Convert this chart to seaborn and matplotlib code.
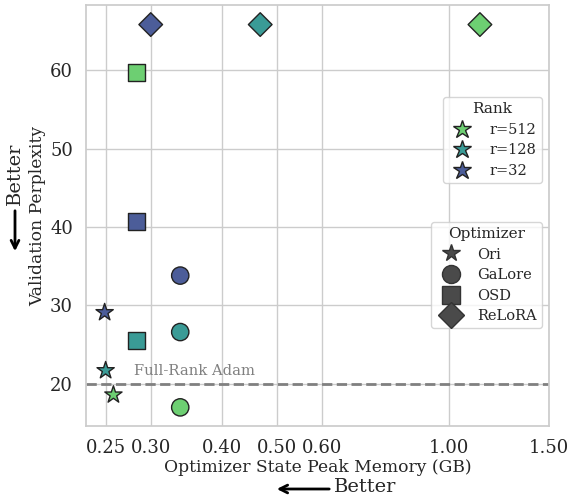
import numpy as np
import pandas as pd
import matplotlib
matplotlib.use("Agg")
import matplotlib.pyplot as plt
from matplotlib.lines import Line2D
import seaborn as sns

sns.set_theme(style="whitegrid")
plt.rcParams['font.family'] = ['DejaVu Serif']

# values
optimizers = ["Ori", "GaLore", "OSD", "ReLoRA"]
ranks = ["r=512", "r=128", "r=32"]
memory = {
    "Ori":    [0.258, 0.250, 0.249],
    "GaLore": [0.338, 0.338, 0.338],
    "OSD":    [0.283, 0.283, 0.283],
    "ReLoRA": [1.135, 0.467, 0.300],
}
perplexity = {
    "Ori":    [18.6, 21.7, 29.1],
    "GaLore": [17.0, 26.6, 33.8],
    "OSD":    [59.7, 25.5, 40.7],
    "ReLoRA": [65.8, 65.8, 65.8],
}
full_rank_adam = 20.0
xticks = [0.25, 0.30, 0.40, 0.50, 0.60, 1.00, 1.50]

rows = []
for opt in optimizers:
    for r, m, p in zip(ranks, memory[opt], perplexity[opt]):
        rows.append({"Optimizer": opt, "Rank": r, "Memory": m, "PPL": p})
df = pd.DataFrame(rows)

palette = {"r=512": "#6dcf72", "r=128": "#3a9b96", "r=32": "#4c5d99"}
markers = {"Ori": "*", "GaLore": "o", "OSD": "s", "ReLoRA": "D"}
sizes = {"Ori": 170, "GaLore": 155, "OSD": 155, "ReLoRA": 145}

fig = plt.figure(figsize=(5.7, 4.95), dpi=100)
ax = fig.add_axes([0.151, 0.139, 0.812, 0.851])

for opt in optimizers:
    sns.scatterplot(data=df[df.Optimizer == opt], x="Memory", y="PPL",
                    hue="Rank", palette=palette, marker=markers[opt],
                    s=sizes[opt], edgecolor="#222222", linewidth=1,
                    legend=False, ax=ax, zorder=3)

ax.axhline(full_rank_adam, color="gray", linestyle="--", lw=2, zorder=2)
ax.text(0.28, 21.6, "Full-Rank Adam", color="gray", fontsize=10.6, va="center")

ax.set_xscale("log")
ax.set_xlim(0.231, 1.5)
ax.set_ylim(14.6, 68.3)
ax.set_xticks(xticks)
ax.set_xticklabels(["%.2f" % t for t in xticks])
ax.xaxis.set_minor_locator(matplotlib.ticker.NullLocator())
ax.set_yticks([20, 30, 40, 50, 60])
ax.tick_params(labelsize=13)
ax.set_xlabel("Optimizer State Peak Memory (GB)", fontsize=12.3, labelpad=1)
ax.set_ylabel("Validation Perplexity", fontsize=12.3, labelpad=3)

# legends
rank_handles = [Line2D([], [], marker="*", ls="", markersize=13.5,
                       markerfacecolor=palette[r], markeredgecolor="#222222",
                       label=r) for r in ranks]
leg1 = ax.legend(handles=rank_handles, title="Rank", loc="upper right",
                 bbox_to_anchor=(0.985, 0.781), borderaxespad=0,
                 fontsize=10.5, title_fontsize=11,
                 handletextpad=0.9, borderpad=0.35, labelspacing=0.45)
ax.add_artist(leg1)
opt_handles = [Line2D([], [], marker=markers[o], ls="", markersize=13,
                      markerfacecolor="#4a4a4a", markeredgecolor="#333333",
                      label=o) for o in optimizers]
ax.legend(handles=opt_handles, title="Optimizer", loc="upper right",
          bbox_to_anchor=(0.985, 0.485), borderaxespad=0,
          fontsize=10.5, title_fontsize=11,
          handletextpad=0.8, borderpad=0.35, labelspacing=0.45)

# "Better" arrows
fig.text(396 / 570, 1 - 487 / 495, "Better", fontsize=14, ha="right", va="center")
ax.annotate("", xy=(274 / 570, 1 - 489 / 495), xytext=(332 / 570, 1 - 489 / 495),
            xycoords="figure fraction",
            arrowprops=dict(arrowstyle="->", lw=2, color="black", mutation_scale=14))
fig.text(15 / 570, 1 - 174 / 495, "Better", fontsize=14, rotation=90,
         ha="center", va="center")
ax.annotate("", xy=(15 / 570, 1 - 254 / 495), xytext=(15 / 570, 1 - 208 / 495),
            xycoords="figure fraction",
            arrowprops=dict(arrowstyle="->", lw=2, color="black", mutation_scale=14))

fig.savefig("out.png", dpi=100)
